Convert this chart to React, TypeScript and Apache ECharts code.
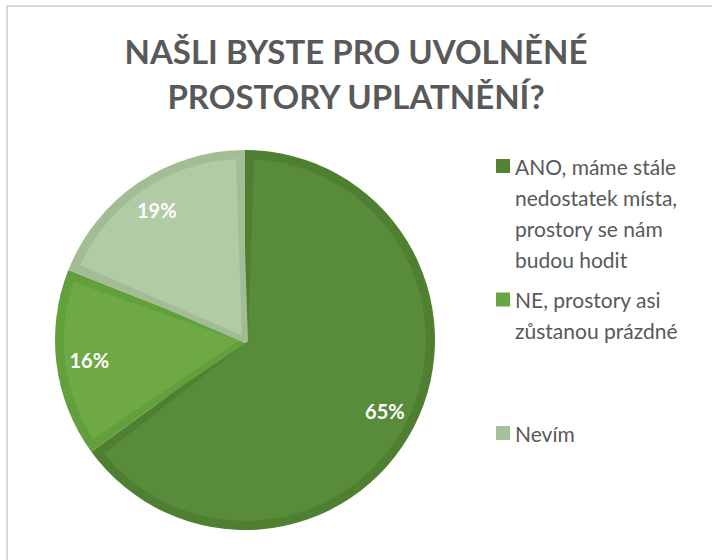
import React, { useEffect, useRef } from "react";
import * as echarts from "echarts";

const categories = [
  "ANO, máme stále nedostatek místa, prostory se nám budou hodit",
  "NE, prostory asi zůstanou prázdné",
  "Nevím",
];
const values = [65, 16, 19];
const legendLines = [
  ["ANO, máme stále", "nedostatek místa,", "prostory se nám", "budou hodit"],
  ["NE, prostory asi", "zůstanou prázdné"],
  ["Nevím"],
];
const titleLines = ["NAŠLI BYSTE PRO UVOLNĚNÉ", "PROSTORY UPLATNĚNÍ?"];

const fillColors = ["#588c3a", "#6fa946", "#b1cca5"];
const edgeColors = ["#4f7f31", "#62a03b", "#a2bd96"];
const legendColors = ["#548235", "#6aa543", "#a5c197"];
const legendFirstLineY = [166, 299.5, 433];
const LINE_H = 31;

export default function App() {
  const ref = useRef<HTMLDivElement>(null);
  useEffect(() => {
    document.body.style.margin = "0";
    const chart = echarts.init(ref.current!, null, { renderer: "svg" });
    const legends = categories.map((name, i) => {
      const n = legendLines[i].length;
      const boxH = (2 * n - 1) * LINE_H;
      const blanks: string[] = [];
      for (let k = 0; k < n - 1; k++) blanks.push("");
      const text = blanks.concat(legendLines[i]).join("\n");
      return {
        data: [{ name, itemStyle: { color: legendColors[i] } }],
        left: 496,
        top: legendFirstLineY[i] - boxH / 2,
        padding: 0,
        icon: "rect",
        itemWidth: 14,
        itemHeight: 14,
        selectedMode: false,
        formatter: () => text,
        textStyle: {
          fontFamily: "Lato",
          fontSize: 21,
          color: "#595959",
          lineHeight: LINE_H,
        },
      };
    });
    chart.setOption({
      animation: false,
      backgroundColor: "#ffffff",
      title: {
        text: titleLines.join("\n"),
        left: "center",
        top: 28,
        padding: [0, 0, 0, 20],
        textStyle: {
          fontFamily: "Lato",
          fontWeight: "bold",
          fontSize: 33,
          color: "#595959",
          lineHeight: 45,
        },
      },
      legend: legends,
      graphic: [
        {
          type: "rect",
          shape: { x: 7, y: 6, width: 800, height: 700 },
          style: { fill: "none", stroke: "#d9d9d9", lineWidth: 2 },
          silent: true,
          z: -1,
        },
      ],
      series: [
        {
          type: "pie",
          name: "edge",
          center: [245, 340],
          radius: 190,
          startAngle: 90,
          silent: true,
          label: { show: false },
          labelLine: { show: false },
          data: categories.map((name, i) => ({
            name,
            value: values[i],
            itemStyle: { color: edgeColors[i] },
          })),
        },
        {
          type: "pie",
          name: "fill",
          center: [245, 340],
          radius: 184,
          startAngle: 90,
          padAngle: 3.8,
          silent: true,
          label: { show: false },
          labelLine: { show: false },
          data: categories.map((name, i) => ({
            name,
            value: values[i],
            itemStyle: {
              color: fillColors[i],
              borderColor: edgeColors[i],
              borderWidth: 6,
            },
          })),
        },
        {
          type: "pie",
          name: "labels",
          center: [245, 340],
          radius: [118, 190],
          startAngle: 90,
          silent: true,
          itemStyle: { color: "transparent" },
          label: {
            show: true,
            position: "inside",
            formatter: (p: any) => `${p.value}%`,
            fontFamily: "Lato",
            fontWeight: "bold",
            fontSize: 20,
            color: "#ffffff",
          },
          labelLine: { show: false },
          data: categories.map((name, i) => ({ name, value: values[i] })),
        },
      ],
    });
    return () => chart.dispose();
  }, []);
  return (
    <div
      ref={ref}
      style={{ position: "absolute", left: 0, top: 0, width: 712, height: 560 }}
    />
  );
}
